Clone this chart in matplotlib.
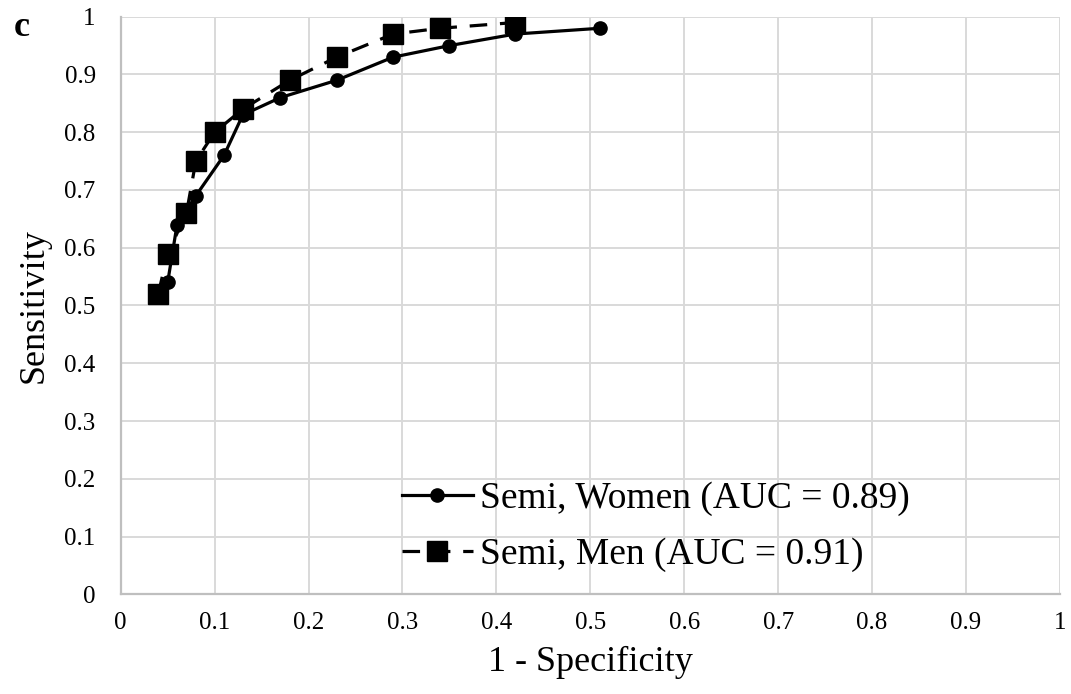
import matplotlib
matplotlib.use("Agg")
import matplotlib.pyplot as plt

# Datos de la curva ROC
fpr_mujeres = [0.05, 0.06, 0.08, 0.11, 0.13, 0.17, 0.23, 0.29, 0.35, 0.42, 0.51]
sens_mujeres = [0.54, 0.64, 0.69, 0.76, 0.83, 0.86, 0.89, 0.93, 0.95, 0.97, 0.98]

fpr_hombres = [0.04, 0.05, 0.07, 0.08, 0.10, 0.13, 0.18, 0.23, 0.29, 0.34, 0.42]
sens_hombres = [0.52, 0.59, 0.66, 0.75, 0.80, 0.84, 0.89, 0.93, 0.97, 0.98, 0.99]

etiqueta_mujeres = "Semi, Women (AUC = 0.89)"
etiqueta_hombres = "Semi, Men (AUC = 0.91)"

ticks = [0, 0.1, 0.2, 0.3, 0.4, 0.5, 0.6, 0.7, 0.8, 0.9, 1]
tick_labels = ["0", "0.1", "0.2", "0.3", "0.4", "0.5", "0.6", "0.7", "0.8", "0.9", "1"]

plt.rcParams['font.family'] = ['Liberation Serif', 'DejaVu Serif']

fig = plt.figure(figsize=(10.71, 6.94), dpi=100)
ax = fig.add_axes([0.1127, 0.1437, 0.877, 0.8322])

ax.plot(fpr_mujeres, sens_mujeres, color='black', linewidth=2.3,
        marker='o', markersize=9.5, label=etiqueta_mujeres)
ax.plot(fpr_hombres, sens_hombres, color='black', linewidth=2.3,
        linestyle=(0, (5.5, 4)), marker='s', markersize=14, label=etiqueta_hombres)

ax.set_xlim(0, 1)
ax.set_ylim(0, 1)
ax.set_xticks(ticks)
ax.set_xticklabels(tick_labels)
ax.set_yticks(ticks)
ax.set_yticklabels(tick_labels)
ax.tick_params(axis='both', length=0, labelsize=18)
ax.tick_params(axis='x', pad=13)
ax.tick_params(axis='y', pad=18)

ax.grid(True, color='#d9d9d9', linewidth=1.4)
ax.set_axisbelow(True)
for lado in ['top', 'right']:
    ax.spines[lado].set_visible(False)
for lado in ['left', 'bottom']:
    ax.spines[lado].set_color('#bfbfbf')
    ax.spines[lado].set_linewidth(1.6)

ax.set_xlabel("1 - Specificity", fontsize=26, labelpad=8)
ax.set_ylabel("Sensitivity", fontsize=26, labelpad=10)

fig.text(0.013, 0.961, "c", fontsize=26, fontweight='bold', va='center', ha='left')

ax.legend(loc='center left', bbox_to_anchor=(0.299, 0.117), frameon=False,
          fontsize=27, handlelength=1.9, handletextpad=0.2, borderpad=0,
          borderaxespad=0, labelspacing=0.56)

fig.savefig("out.png", dpi=100)
